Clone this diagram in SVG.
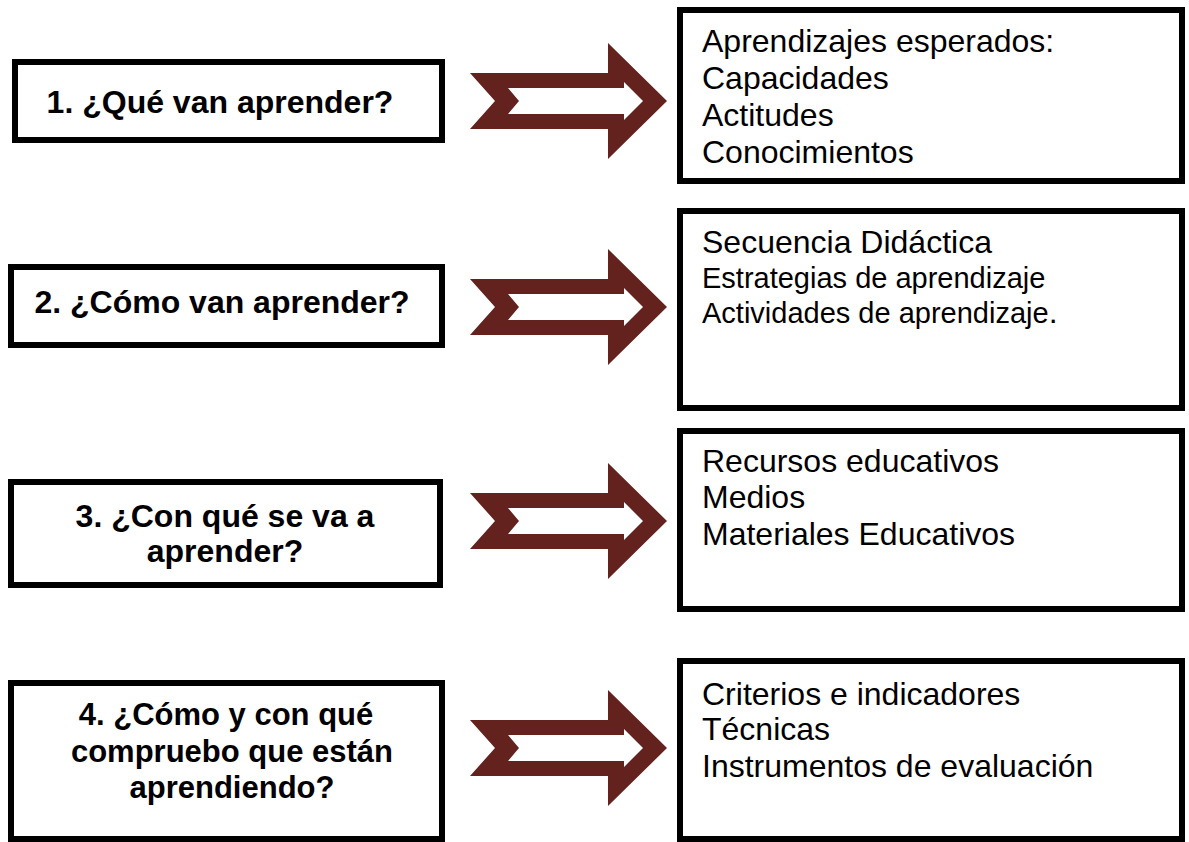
<svg xmlns="http://www.w3.org/2000/svg" width="1189" height="842" viewBox="0 0 1189 842">
<defs>
<style>
.box{fill:#fff;stroke:#000;stroke-width:6}
.q{font-family:"Liberation Sans",Arial,sans-serif;font-weight:bold;font-size:32px;fill:#000;text-anchor:middle}
.q4{font-size:31px}
.a{font-family:"Liberation Sans",Arial,sans-serif;font-size:32px;fill:#000}
.s{font-size:29px}
.outer{fill:#64221F}
.inner{fill:#fff}
</style>
<g id="arrowShape">
<polygon class="outer" points="470,-28 608,-28 608,-58 667,0 608,58 608,28 470,28 495,0"/>
<polygon class="inner" points="508,-13 624,-13 624,-19 643,0 624,19 624,13 508,13 519,0"/>
</g>
</defs>
<rect width="1189" height="842" fill="#fff"/>
<g id="connectors">
<use href="#arrowShape" transform="translate(0,101)"/>
<use href="#arrowShape" transform="translate(0,307)"/>
<use href="#arrowShape" transform="translate(0,521)"/>
<use href="#arrowShape" transform="translate(0,748)"/>
</g>
<g id="q1">
<rect class="box" x="15" y="62" width="427" height="78"/>
<text class="q" x="220" y="113">1. ¿Qué van aprender?</text>
</g>
<g id="q2">
<rect class="box" x="11" y="267" width="431" height="78"/>
<text class="q" x="222" y="313">2. ¿Cómo van aprender?</text>
</g>
<g id="q3">
<rect class="box" x="11" y="482" width="429" height="103"/>
<text class="q" x="225" y="527">3. ¿Con qué se va a</text>
<text class="q" x="225" y="562">aprender?</text>
</g>
<g id="q4">
<rect class="box" x="11" y="683" width="431" height="156"/>
<text class="q q4" x="226" y="725">4. ¿Cómo y con qué</text>
<text class="q q4" x="232" y="762">compruebo que están</text>
<text class="q q4" x="232" y="798">aprendiendo?</text>
</g>
<g id="a1">
<rect class="box" x="680" y="10" width="502" height="171"/>
<text class="a" x="702" y="52">Aprendizajes esperados:</text>
<text class="a" x="702" y="89">Capacidades</text>
<text class="a" x="702" y="126">Actitudes</text>
<text class="a" x="702" y="163">Conocimientos</text>
</g>
<g id="a2">
<rect class="box" x="680" y="211" width="502" height="197"/>
<text class="a" x="702" y="253">Secuencia Didáctica</text>
<text class="a s" x="702" y="288">Estrategias de aprendizaje</text>
<text class="a" x="702" y="323"><tspan class="s">Actividades de aprendizaje</tspan>.</text>
</g>
<g id="a3">
<rect class="box" x="680" y="431" width="502" height="178"/>
<text class="a" x="702" y="472">Recursos educativos</text>
<text class="a" x="702" y="508">Medios</text>
<text class="a" x="702" y="545">Materiales Educativos</text>
</g>
<g id="a4">
<rect class="box" x="680" y="661" width="502" height="178"/>
<text class="a" x="702" y="705">Criterios e indicadores</text>
<text class="a" x="702" y="740">Técnicas</text>
<text class="a" x="702" y="777">Instrumentos de evaluación</text>
</g>
</svg>
